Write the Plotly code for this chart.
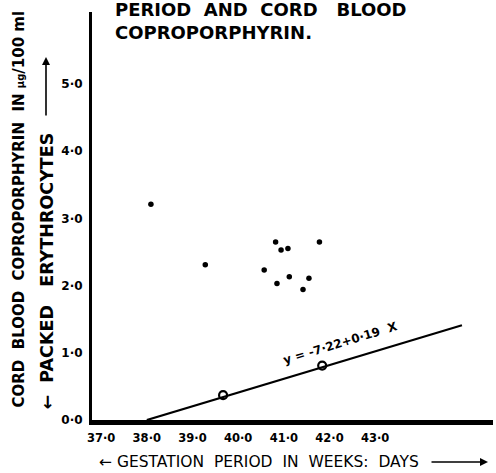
import plotly.graph_objects as go

# ---- data ----
weeks = [38.09, 39.28, 40.82, 40.94, 41.09, 41.78, 40.57, 41.12, 41.55, 40.85, 41.42]
copro = [3.21, 2.31, 2.65, 2.53, 2.55, 2.65, 2.23, 2.13, 2.11, 2.03, 1.94]

reg_x = [38.0, 44.9]
reg_y = [0.0, 1.41]
fit_pts_x = [39.67, 41.84]
fit_pts_y = [0.37, 0.81]

x_tickvals = [37, 38, 39, 40, 41, 42, 43]
x_ticktext = ["37·0", "38·0", "39·0", "40·0", "41·0", "42·0", "43·0"]
y_tickvals = [0, 1, 2, 3, 4, 5]
y_ticktext = ["0·0", "1·0", "2·0", "3·0", "4·0", "5·0"]

W, H = 496, 473
L, R, T, B = 92, 3, 12, 53
PW, PH = W - L - R, H - T - B


def px(xp):
    return (xp - L) / PW


def py(yp):
    return (H - B - yp) / PH


FONT = "DejaVu Sans"

fig = go.Figure()
fig.add_trace(go.Scatter(x=reg_x, y=reg_y, mode="lines",
                         line=dict(color="black", width=2.2), hoverinfo="skip"))
fig.add_trace(go.Scatter(x=fit_pts_x, y=fit_pts_y, mode="markers",
                         marker=dict(symbol="circle-open", size=8, color="black",
                                     line=dict(width=2.2))))
fig.add_trace(go.Scatter(x=weeks, y=copro, mode="markers",
                         marker=dict(color="black", size=5.5)))

ann = []
# title lines
ann.append(dict(text="PERIOD  AND  CORD   BLOOD", x=px(113), y=py(9), xref="paper", yref="paper",
                xanchor="left", yanchor="middle", showarrow=False,
                font=dict(family=FONT, size=18, color="black", weight="bold")))
ann.append(dict(text="COPROPORPHYRIN.", x=px(113), y=py(32), xref="paper", yref="paper",
                xanchor="left", yanchor="middle", showarrow=False,
                font=dict(family=FONT, size=18, color="black", weight="bold")))
# y axis titles
ann.append(dict(text="CORD  BLOOD  COPROPORPHYRIN  IN <span style='font-size:10px'>µg</span>/100 ml",
                x=px(18), y=py(410), xref="paper", yref="paper", textangle=-90,
                xanchor="center", yanchor="bottom", showarrow=False,
                font=dict(family=FONT, size=15, color="black", weight="bold")))
ann.append(dict(text="←  PACKED   ERYTHROCYTES",
                x=px(46), y=py(412), xref="paper", yref="paper", textangle=-90,
                xanchor="center", yanchor="bottom", showarrow=False,
                font=dict(family=FONT, size=17.5, color="black", weight="bold")))
ann.append(dict(text="", x=px(46), y=py(57), xref="paper", yref="paper",
                ax=0, ay=60, showarrow=True, arrowhead=2, arrowsize=1, arrowwidth=1.6,
                arrowcolor="black"))
# x axis title
ann.append(dict(text="← GESTATION  PERIOD  IN  WEEKS:  DAYS", x=px(97), y=py(462),
                xref="paper", yref="paper", xanchor="left", yanchor="middle", showarrow=False,
                font=dict(family=FONT, size=15.5, color="black")))
ann.append(dict(text="", x=px(488), y=py(462), xref="paper", yref="paper",
                ax=-58, ay=0, showarrow=True, arrowhead=2, arrowsize=1, arrowwidth=1.6,
                arrowcolor="black"))
# regression equation
ann.append(dict(text="y = -7·22+0·19  X", x=42.25, y=1.15, xref="x", yref="y",
                textangle=-17, showarrow=False,
                font=dict(family=FONT, size=12, color="black", weight="bold")))

fig.update_layout(
    width=W, height=H, autosize=False,
    margin=dict(l=L, r=R, t=T, b=B),
    paper_bgcolor="white", plot_bgcolor="white",
    showlegend=False,
    annotations=ann,
    xaxis=dict(range=[36.8, 45.58], tickvals=x_tickvals, ticktext=x_ticktext,
               showgrid=False, zeroline=False, showline=True, linewidth=5, linecolor="black",
               ticks="", ticklabelstandoff=3,
               tickfont=dict(family=FONT, size=11.5, color="black", weight="bold")),
    yaxis=dict(range=[0, 6.07], tickvals=y_tickvals, ticktext=y_ticktext,
               showgrid=False, zeroline=False, showline=True, linewidth=3, linecolor="black",
               ticks="", ticklabelstandoff=4,
               tickfont=dict(family=FONT, size=12, color="black", weight="bold")),
)

fig.write_html("out.html")
